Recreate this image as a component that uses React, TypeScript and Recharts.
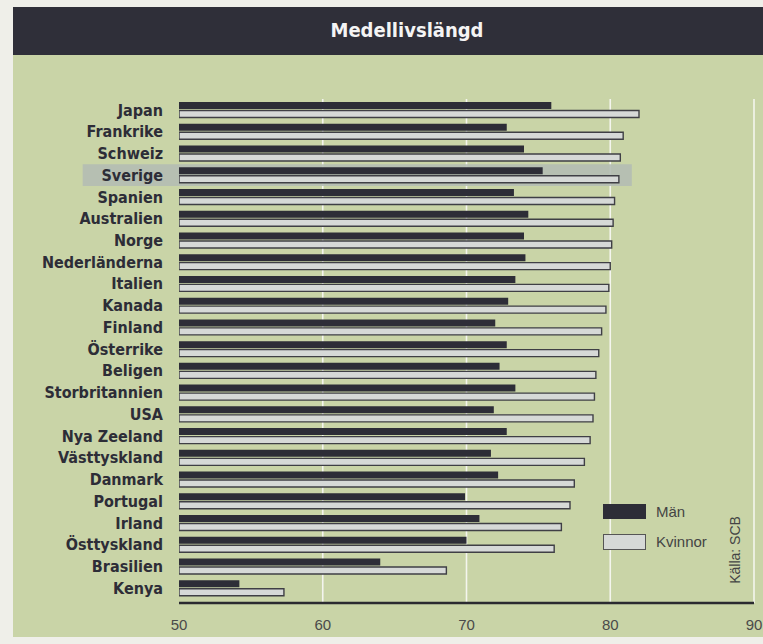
import { Bar, BarChart, CartesianGrid, ReferenceArea, XAxis, YAxis } from 'recharts';

const countries = [
    'Japan', 'Frankrike', 'Schweiz', 'Sverige', 'Spanien', 'Australien', 'Norge', 'Nederländerna',
    'Italien', 'Kanada', 'Finland', 'Österrike', 'Beligen', 'Storbritannien', 'USA', 'Nya Zeeland',
    'Västtyskland', 'Danmark', 'Portugal', 'Irland', 'Östtyskland', 'Brasilien', 'Kenya'
];
const men = [75.9, 72.8, 74.0, 75.3, 73.3, 74.3, 74.0, 74.1, 73.4, 72.9, 72.0, 72.8, 72.3, 73.4, 71.9, 72.8, 71.7, 72.2, 69.9, 70.9, 70.0, 64.0, 54.2];
const women = [82.0, 80.9, 80.7, 80.6, 80.3, 80.2, 80.1, 80.0, 79.9, 79.7, 79.4, 79.2, 79.0, 78.9, 78.8, 78.6, 78.2, 77.5, 77.2, 76.6, 76.1, 68.6, 57.3];
const xTicks = [50, 60, 70, 80, 90];
const gridValues = [60, 70, 80, 90];
const highlighted = 'Sverige';
const seriesNames = ['Män', 'Kvinnor'];

const data = countries.map((name, i) => ({ name, men: men[i], women: women[i] }));

const green = '#c9d4a7';
const dark = '#2d2d37';
const womenFill = '#d6d9d7';
const labelFont = '"DejaVu Sans Condensed", "Liberation Sans Narrow", Roboto, sans-serif';
const lightFont = '"Liberation Sans", Arial, sans-serif';

export default function App() {
    return (
        <div style={{ position: 'absolute', left: 0, top: 0, width: 763, height: 644, background: '#efefe9', overflow: 'hidden' }}>
            <div style={{ position: 'absolute', left: 13, top: 55, width: 750, height: 582, background: green }} />
            <div style={{ position: 'absolute', left: 13, top: 7, width: 750, height: 48, background: '#2f2f39' }} />
            <div
                style={{
                    position: 'absolute', left: 407, top: 30, transform: 'translate(-50%, -50%)',
                    color: '#f4f4f4', fontFamily: labelFont, fontWeight: 700, fontSize: 20, whiteSpace: 'nowrap'
                }}
            >
                Medellivslängd
            </div>
            <div style={{ position: 'absolute', left: 0, top: 0 }}>
                <BarChart
                    width={763}
                    height={644}
                    data={data}
                    layout="vertical"
                    margin={{ top: 99, right: 9, bottom: 1, left: 0 }}
                    barSize={7}
                    barGap={1.5}
                >
                    <ReferenceArea
                        y1={highlighted}
                        y2={highlighted}
                        x1={43.3}
                        x2={81.5}
                        ifOverflow="visible"
                        fill="#b4bcb4"
                        fillOpacity={0.9}
                        stroke="none"
                    />
                    <CartesianGrid
                        horizontal={false}
                        vertical
                        verticalValues={gridValues}
                        stroke="#f4f5ee"
                        strokeWidth={1.6}
                    />
                    <XAxis
                        type="number"
                        domain={[50, 90]}
                        ticks={xTicks}
                        tickLine={false}
                        axisLine={{ stroke: '#2a2a30', strokeWidth: 2.5 }}
                        tickMargin={10}
                        height={40}
                        tick={{ fontSize: 15, fill: '#4a4a4a', fontFamily: lightFont }}
                        allowDataOverflow
                    />
                    <YAxis
                        type="category"
                        dataKey="name"
                        width={179}
                        axisLine={false}
                        tickLine={false}
                        tickMargin={10}
                        padding={{ top: 0, bottom: 4 }}
                        interval={0}
                        tick={{ fontSize: 16, fontWeight: 700, fill: dark, fontFamily: labelFont }}
                    />
                    <Bar dataKey="men" name={seriesNames[0]} fill={dark} isAnimationActive={false} />
                    <Bar dataKey="women" name={seriesNames[1]} fill={womenFill} stroke="#3f3f45" strokeWidth={1.4} isAnimationActive={false} />
                </BarChart>
            </div>
            <div style={{ position: 'absolute', left: 603, top: 504, fontFamily: lightFont, fontSize: 15, color: '#444' }}>
                {seriesNames.map((name, i) => (
                    <div key={name} style={{ display: 'flex', alignItems: 'center', height: 15, marginBottom: 15 }}>
                        <div
                            style={{
                                width: i === 0 ? 43 : 41,
                                height: i === 0 ? 15 : 14,
                                background: i === 0 ? dark : womenFill,
                                border: i === 0 ? 'none' : '1px solid #555',
                                marginRight: 10
                            }}
                        />
                        <span>{name}</span>
                    </div>
                ))}
            </div>
            <div
                style={{
                    position: 'absolute', left: 735, top: 550, transform: 'translate(-50%, -50%) rotate(-90deg)',
                    fontFamily: lightFont, fontSize: 14, color: '#444', whiteSpace: 'nowrap'
                }}
            >
                Källa: SCB
            </div>
        </div>
    );
}
